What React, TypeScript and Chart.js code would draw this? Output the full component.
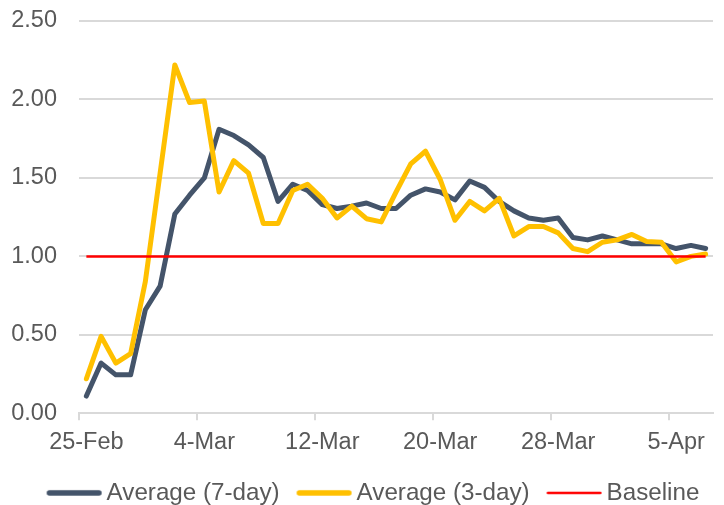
import { useEffect, useRef } from 'react';
import { Chart, registerables } from 'chart.js';

Chart.register(...registerables);

const dates = [
  '25-Feb', '26-Feb', '27-Feb', '28-Feb', '29-Feb',
  '1-Mar', '2-Mar', '3-Mar', '4-Mar', '5-Mar', '6-Mar', '7-Mar', '8-Mar', '9-Mar', '10-Mar',
  '11-Mar', '12-Mar', '13-Mar', '14-Mar', '15-Mar', '16-Mar', '17-Mar', '18-Mar', '19-Mar', '20-Mar',
  '21-Mar', '22-Mar', '23-Mar', '24-Mar', '25-Mar', '26-Mar', '27-Mar', '28-Mar', '29-Mar', '30-Mar', '31-Mar',
  '1-Apr', '2-Apr', '3-Apr', '4-Apr', '5-Apr', '6-Apr', '7-Apr',
];

const xTickLabels = ['25-Feb', '4-Mar', '12-Mar', '20-Mar', '28-Mar', '5-Apr'];

const avg7 = [
  0.11, 0.32, 0.245, 0.245, 0.66, 0.81, 1.27, 1.39, 1.5, 1.81,
  1.77, 1.71, 1.63, 1.35, 1.46, 1.42, 1.33, 1.305, 1.32, 1.34,
  1.305, 1.305, 1.39, 1.43, 1.41, 1.36, 1.48, 1.44, 1.35, 1.29,
  1.245, 1.23, 1.245, 1.12, 1.105, 1.13, 1.105, 1.08, 1.08, 1.08,
  1.05, 1.07, 1.05,
];

const avg3 = [
  0.22, 0.49, 0.32, 0.38, 0.84, 1.53, 2.22, 1.98, 1.99, 1.41,
  1.61, 1.53, 1.21, 1.21, 1.42, 1.46, 1.37, 1.245, 1.32, 1.24,
  1.22, 1.41, 1.59, 1.67, 1.49, 1.23, 1.35, 1.29, 1.37, 1.13,
  1.19, 1.19, 1.15, 1.05, 1.03, 1.09, 1.105, 1.14, 1.095, 1.09,
  0.965, 1.0, 1.015,
];

const baseline = [
  1, 1, 1, 1, 1, 1, 1, 1, 1, 1,
  1, 1, 1, 1, 1, 1, 1, 1, 1, 1,
  1, 1, 1, 1, 1, 1, 1, 1, 1, 1,
  1, 1, 1, 1, 1, 1, 1, 1, 1, 1,
  1, 1, 1,
];

const seriesNames = ['Average (7-day)', 'Average (3-day)', 'Baseline'];

const DARK = '#44546A';
const YELLOW = '#FFC000';
const RED = '#FF0000';
const TEXT = '#595959';
const GRID = '#D9D9D9';
const AXIS_FONT = 23.5;
const LEGEND_FONT = 24.2;
const BOX_W = 60 - LEGEND_FONT / 2;

function legendLine(color: string, width: number) {
  const c = document.createElement('canvas');
  c.width = 80;
  c.height = 12;
  const g = c.getContext('2d')!;
  const start = 40 - BOX_W / 2;
  g.strokeStyle = color;
  g.lineWidth = width;
  g.lineCap = 'round';
  g.beginPath();
  g.moveTo(start + width / 2, 6);
  g.lineTo(start + 55 - width / 2, 6);
  g.stroke();
  return c;
}

const legendShift = {
  id: 'legendShift',
  afterLayout(chart: any) {
    const l = chart.legend;
    if (!l) return;
    l.left += 12.5;
    l.right += 12.5;
    l.top += 10;
    l.bottom += 10;
  },
};

export default function App() {
  const ref = useRef<HTMLCanvasElement>(null);

  useEffect(() => {
    if (!ref.current) return;
    Chart.defaults.font.family = "'Liberation Sans', Arial, sans-serif";
    const chart = new Chart(ref.current, {
      type: 'line',
      data: {
        labels: dates,
        datasets: [
          {
            label: seriesNames[0],
            data: avg7,
            borderColor: DARK,
            backgroundColor: DARK,
            borderWidth: 5,
            borderJoinStyle: 'round',
            borderCapStyle: 'round',
            pointRadius: 0,
            pointStyle: legendLine(DARK, 5.5) as any,
            tension: 0,
            order: 3,
          },
          {
            label: seriesNames[1],
            data: avg3,
            borderColor: YELLOW,
            backgroundColor: YELLOW,
            borderWidth: 5,
            borderJoinStyle: 'round',
            borderCapStyle: 'round',
            pointRadius: 0,
            pointStyle: legendLine(YELLOW, 5.5) as any,
            tension: 0,
            order: 2,
          },
          {
            label: seriesNames[2],
            data: baseline,
            borderColor: RED,
            backgroundColor: RED,
            borderWidth: 2.5,
            pointRadius: 0,
            pointStyle: legendLine(RED, 2.5) as any,
            tension: 0,
            order: 1,
          },
        ],
      },
      options: {
        animation: false,
        responsive: true,
        maintainAspectRatio: false,
        events: [],
        layout: { padding: { top: 21, left: 8, right: 11, bottom: 0 } },
        scales: {
          x: {
            type: 'category',
            offset: true,
            grid: {
              offset: true,
              drawOnChartArea: false,
              drawTicks: true,
              tickLength: 7,
              lineWidth: 2,
              color: (ctx: any) =>
                ctx.type === 'tick' && xTickLabels.includes(dates[ctx.index]) ? GRID : 'rgba(0,0,0,0)',
            },
            border: { display: true, color: GRID, width: 2 },
            ticks: {
              autoSkip: false,
              maxRotation: 0,
              minRotation: 0,
              padding: 8,
              color: TEXT,
              font: { size: AXIS_FONT },
              callback: (_v: any, i: number) => (xTickLabels.includes(dates[i]) ? dates[i] : ''),
            },
            afterFit: (s: any) => {
              s.height = 40.5;
            },
          },
          y: {
            min: 0,
            max: 2.5,
            grid: { color: GRID, lineWidth: 2, drawTicks: false },
            border: { display: false },
            ticks: {
              stepSize: 0.5,
              padding: 22,
              color: TEXT,
              font: { size: AXIS_FONT },
              callback: (v: any) => Number(v).toFixed(2),
            },
            afterFit: (s: any) => {
              s.width = 71;
              s.paddingTop = 0;
              s.paddingBottom = 0;
            },
          },
        },
        plugins: {
          tooltip: { enabled: false },
          legend: {
            position: 'bottom',
            labels: {
              usePointStyle: true,
              pointStyleWidth: BOX_W,
              padding: 17,
              color: TEXT,
              font: { size: LEGEND_FONT },
              sort: (a: any, b: any) => a.datasetIndex - b.datasetIndex,
            },
          },
        },
      },
      plugins: [legendShift],
    });
    return () => chart.destroy();
  }, []);

  return (
    <div style={{ position: 'fixed', left: 0, top: 0, width: 724, height: 505, background: '#fff' }}>
      <canvas ref={ref} />
    </div>
  );
}
